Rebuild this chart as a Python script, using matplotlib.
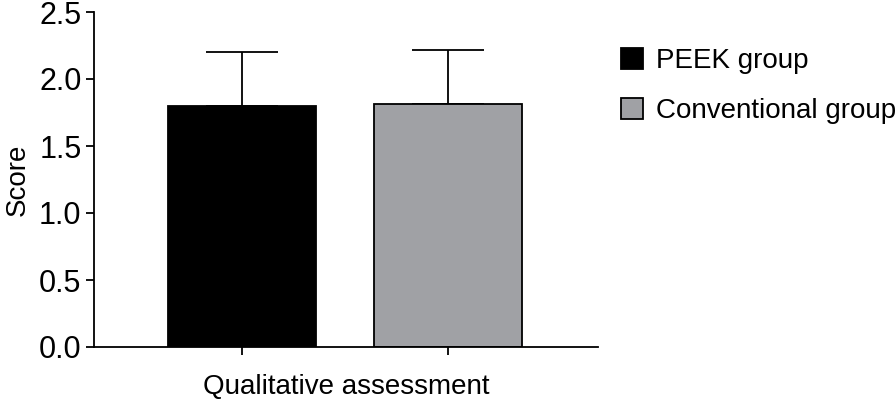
import matplotlib.pyplot as plt

plt.rcParams['font.family'] = ['Liberation Sans', 'DejaVu Sans']

# Data
groups = ["PEEK group", "Conventional group"]
means = [1.80, 1.81]
sd_upper = [0.40, 0.41]
colors = ["#000000", "#a0a1a5"]
yticks = [0.0, 0.5, 1.0, 1.5, 2.0, 2.5]

fig = plt.figure(figsize=(8.96, 4.0), dpi=100)
ax = fig.add_axes([94 / 896, 53 / 400, (598 - 94) / 896, (347 - 12) / 400])

positions = [0, 1]
bars = []
for pos, m, e, c, g in zip(positions, means, sd_upper, colors, groups):
    b = ax.bar(pos, m, width=0.714, color=c, edgecolor="black", linewidth=1.3,
               label=g, zorder=2)
    ax.errorbar(pos, m, yerr=[[0], [e]], color="black", elinewidth=1.3,
                capsize=26, capthick=1.3, zorder=1)
    bars.append(b)

ax.set_xlim(-0.718, 1.728)
ax.set_ylim(0, 2.5)
ax.set_yticks(yticks)
ax.set_yticklabels([f"{t:.1f}" for t in yticks])
ax.set_xticks(positions)
ax.set_xticklabels(["", ""])
ax.set_xlabel("Qualitative assessment", fontsize=20, labelpad=10)
ax.set_ylabel("Score", fontsize=20, labelpad=6)

for side in ["top", "right"]:
    ax.spines[side].set_visible(False)
for side in ["left", "bottom"]:
    ax.spines[side].set_linewidth(1.3)
ax.tick_params(axis="both", width=1.3, length=6, labelsize=22, color="black")
ax.tick_params(axis="y", pad=3)

ax.legend(handles=bars, labels=groups, loc="upper left",
          bbox_to_anchor=(621 / 896, 1 - 48 / 400), bbox_transform=fig.transFigure,
          frameon=False, fontsize=20, handlelength=0.8, handleheight=0.8,
          handletextpad=0.45, labelspacing=0.85, borderpad=0, borderaxespad=0)

fig.savefig("out.png", dpi=100)
